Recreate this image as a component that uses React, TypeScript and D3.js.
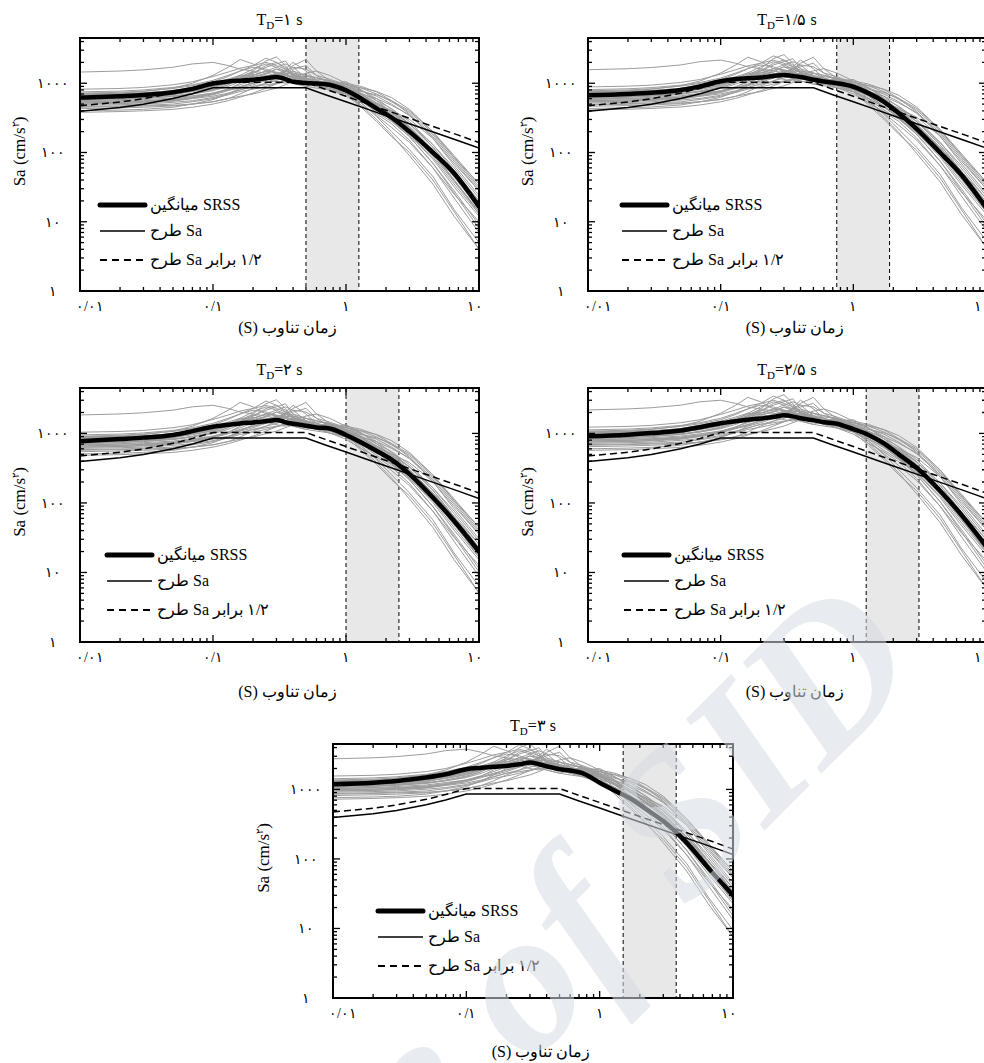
import React from 'react';
import * as d3 from 'd3';

const W = 984;
const H = 1063;
const FONT = 'Liberation Serif, Times New Roman, DejaVu Serif, serif';

// periods (s) where the records and the SRSS means were read
const periods = [0.01, 0.02, 0.03, 0.05, 0.07, 0.1, 0.13, 0.16, 0.2, 0.25, 0.3, 0.35, 0.4, 0.5, 0.6, 0.75, 1, 1.3, 1.7, 2.2, 3, 4.5, 6.5, 10];

// individual records, read at the T_D=1 s panel scale
const records = [
  [1450, 1500, 1560, 1700, 1900, 2000, 1800, 1600, 1500, 1400, 1300, 1200, 1100, 1050, 900, 800, 650, 480, 360, 260, 150, 60, 25, 10],
  [700, 720, 760, 850, 1000, 1300, 1700, 2200, 1900, 1500, 1400, 1300, 1200, 1000, 900, 850, 700, 560, 420, 330, 220, 110, 50, 20],
  [560, 580, 600, 650, 720, 820, 950, 1200, 1500, 2100, 2400, 1800, 1300, 1000, 950, 900, 800, 650, 500, 380, 260, 130, 60, 22],
  [480, 490, 500, 530, 560, 620, 700, 800, 900, 1000, 1200, 1600, 2000, 1500, 1100, 900, 750, 620, 500, 400, 300, 160, 70, 28],
  [620, 640, 660, 700, 760, 850, 1000, 1100, 1300, 1500, 1700, 1900, 1700, 1200, 1000, 950, 850, 700, 520, 380, 240, 110, 45, 15],
  [450, 460, 470, 480, 500, 540, 600, 650, 700, 780, 850, 950, 1050, 1150, 1050, 950, 800, 700, 600, 480, 350, 180, 80, 30],
  [680, 700, 720, 780, 880, 1000, 1150, 1300, 1250, 1350, 1600, 1500, 1350, 1100, 1000, 1050, 900, 620, 420, 300, 180, 80, 32, 12],
  [520, 530, 550, 580, 620, 700, 800, 900, 1000, 1150, 1300, 1450, 1600, 1800, 1300, 1000, 850, 680, 480, 350, 220, 100, 40, 14],
  [600, 610, 620, 660, 700, 780, 900, 1050, 1250, 1150, 1050, 1000, 1100, 1300, 1200, 1100, 780, 520, 330, 200, 110, 45, 15, 5],
  [430, 440, 450, 470, 500, 540, 600, 700, 850, 1000, 1100, 1200, 1300, 1200, 1050, 1000, 900, 780, 650, 500, 340, 170, 75, 28],
  [750, 770, 800, 870, 950, 1100, 1300, 1500, 1700, 1600, 1400, 1200, 1000, 900, 1000, 1100, 850, 550, 380, 280, 170, 70, 28, 9],
  [580, 590, 610, 640, 700, 800, 950, 1150, 1400, 1700, 1900, 2100, 1500, 1100, 950, 800, 700, 560, 420, 290, 180, 85, 35, 13],
  [500, 510, 520, 550, 600, 650, 720, 800, 900, 950, 1000, 1050, 1100, 1000, 950, 1000, 950, 850, 700, 540, 380, 190, 85, 35],
  [650, 670, 700, 760, 850, 950, 1050, 1200, 1400, 1800, 2000, 1700, 1400, 1200, 1100, 1000, 750, 480, 300, 180, 90, 35, 12, 4],
  [550, 560, 580, 610, 660, 720, 800, 850, 950, 1100, 1300, 1500, 1800, 2200, 1500, 1100, 900, 720, 560, 430, 280, 130, 55, 20],
  [640, 650, 670, 720, 800, 900, 1050, 1300, 1600, 1900, 1700, 1500, 1300, 1150, 1050, 1000, 880, 680, 520, 400, 260, 120, 50, 18],
  [590, 600, 620, 680, 780, 900, 1000, 1100, 1050, 1200, 1400, 1300, 1250, 1100, 1150, 1100, 950, 800, 600, 420, 260, 120, 50, 17],
  [400, 410, 420, 450, 500, 580, 700, 850, 1050, 1250, 1400, 1300, 1150, 1000, 900, 850, 750, 620, 480, 360, 230, 110, 48, 18],
  [700, 710, 730, 780, 850, 950, 1100, 1250, 1450, 1300, 1200, 1350, 1500, 1300, 1100, 950, 800, 600, 430, 310, 190, 90, 38, 14],
  [520, 530, 540, 570, 620, 700, 820, 1000, 1200, 1400, 1600, 1400, 1200, 1050, 1000, 1050, 1000, 900, 750, 560, 360, 160, 65, 24],
  [460, 470, 480, 500, 540, 600, 680, 760, 820, 900, 980, 1050, 1000, 900, 850, 800, 700, 520, 340, 230, 140, 60, 22, 7],
  [820, 840, 870, 950, 1050, 1250, 1450, 1650, 1800, 2300, 2000, 1600, 1300, 1100, 1000, 950, 820, 640, 470, 340, 210, 95, 40, 14],
  [540, 550, 560, 590, 640, 720, 830, 950, 1100, 1250, 1350, 1500, 1700, 1600, 1300, 1150, 950, 860, 760, 620, 420, 200, 85, 32],
  [380, 390, 400, 420, 450, 500, 560, 630, 720, 850, 980, 1100, 1200, 1100, 1000, 900, 700, 450, 280, 170, 100, 40, 14, 4],
  [670, 690, 710, 760, 830, 920, 1050, 1200, 1350, 1250, 1150, 1100, 1200, 1400, 1500, 1300, 1000, 700, 480, 350, 230, 105, 44, 16],
  [610, 620, 640, 690, 760, 870, 1000, 1150, 1300, 1500, 1450, 1350, 1250, 1150, 1000, 900, 820, 760, 680, 560, 400, 200, 90, 35],
  [500, 510, 530, 560, 610, 680, 780, 880, 1000, 1100, 1250, 1400, 1350, 1150, 950, 1000, 1050, 800, 560, 380, 230, 100, 40, 13],
  [720, 740, 770, 840, 920, 1050, 1250, 1500, 1800, 2000, 1800, 1600, 1400, 1300, 1200, 1050, 850, 620, 430, 290, 170, 70, 26, 8],
];

// scale factor of the records in each panel
const recordScale = [1, 1.08, 1.27, 1.5, 1.9];

// SRSS mean, one per panel
const meanTd1 = [620, 650, 675, 740, 830, 990, 1060, 1090, 1120, 1180, 1230, 1150, 1050, 1010, 990, 950, 790, 600, 430, 320, 200, 100, 50, 16.5];
const meanTd15 = [670, 700, 730, 800, 900, 1070, 1150, 1180, 1210, 1270, 1320, 1270, 1230, 1120, 1060, 1000, 890, 720, 540, 370, 220, 100, 48, 16];
const meanTd2 = [770, 830, 870, 950, 1080, 1250, 1330, 1390, 1440, 1500, 1560, 1450, 1380, 1290, 1220, 1180, 950, 740, 560, 420, 260, 120, 55, 20];
const meanTd25 = [910, 960, 1010, 1100, 1230, 1400, 1500, 1570, 1640, 1720, 1820, 1760, 1650, 1550, 1450, 1380, 1150, 950, 720, 500, 320, 150, 68, 24];
const meanTd3 = [1190, 1250, 1320, 1480, 1650, 1950, 2050, 2120, 2180, 2300, 2440, 2300, 2150, 1950, 1870, 1700, 1250, 960, 740, 530, 350, 170, 75, 30];
const means = [meanTd1, meanTd15, meanTd2, meanTd25, meanTd3];

// design spectrum (same in every panel)
const designPeriods = [0.01, 0.02, 0.03, 0.05, 0.07, 0.1, 0.5, 0.7, 1, 1.5, 2, 3, 5, 7, 10];
const designSa = [395, 446, 498, 600, 704, 858, 858, 683, 540, 412, 340, 260, 185, 148, 116];
const designSa12 = [474, 535, 598, 720, 845, 1030, 1030, 820, 648, 494, 408, 312, 222, 178, 139];

// panel titles and shaded period range
const tdLabels = ['۱', '۱/۵', '۲', '۲/۵', '۳'];
const shadeFrom = [0.5, 0.75, 1, 1.25, 1.5];
const shadeTo = [1.25, 1.875, 2.5, 3.125, 3.75];

const xTickValues = [0.01, 0.1, 1, 10];
const xTickLabels = ['۰/۰۱', '۰/۱', '۱', '۱۰'];
const yTickValues = [1, 10, 100, 1000];
const yTickLabels = ['۱', '۱۰', '۱۰۰', '۱۰۰۰'];

const legendLabels = ['میانگین SRSS', 'طرح Sa', 'طرح\u200E Sa \u200Eبرابر\u200E ۱/۲'];

const layouts = [
  { left: 80, top: 38, width: 399, height: 253, legendDx: 20, xTitleY: 333, yTitleDx: 60 },
  { left: 588, top: 38, width: 398, height: 253, legendDx: 34, xTitleY: 333, yTitleDx: 60 },
  { left: 80, top: 388, width: 399, height: 254, legendDx: 27, xTitleY: 697, yTitleDx: 60 },
  { left: 588, top: 388, width: 398, height: 254, legendDx: 36, xTitleY: 697, yTitleDx: 60 },
  { left: 333, top: 744, width: 400, height: 254, legendDx: 45, xTitleY: 1057, yTitleDx: 69 },
];

const isMajor = (v: number) => Math.abs(Math.log10(v) - Math.round(Math.log10(v))) < 1e-6;

function Panel({ i }: { i: number }) {
  const L = layouts[i];
  const right = L.left + L.width;
  const bottom = L.top + L.height;
  const x = d3.scaleLog().domain([0.01, 10]).range([L.left, right]);
  const y = d3.scaleLog().domain([1, 4500]).range([bottom, L.top]);

  const line = d3.line<[number, number]>().x(d => x(d[0])).y(d => y(d[1]));
  const smooth = d3.line<[number, number]>().x(d => x(d[0])).y(d => y(d[1])).curve(d3.curveMonotoneX);

  const recPaths = records.map(r => line(r.map((v, k) => [periods[k], v * recordScale[i]] as [number, number])));
  const meanPath = smooth(means[i].map((v, k) => [periods[k], v] as [number, number]));
  const designPath = line(designSa.map((v, k) => [designPeriods[k], v] as [number, number]));
  const design12Path = line(designSa12.map((v, k) => [designPeriods[k], v] as [number, number]));

  const xt = x.ticks();
  const yt = y.ticks();
  const clipId = `clip-${i}`;
  const x0 = x(shadeFrom[i]);
  const x1 = x(shadeTo[i]);
  const lx = L.left + L.legendDx;
  const legendY = [L.top + 167, L.top + 193, L.top + 222];

  return (
    <g>
      <defs>
        <clipPath id={clipId}>
          <rect x={L.left} y={L.top} width={L.width} height={L.height} />
        </clipPath>
      </defs>
      <text x={L.left + L.width / 2} y={L.top - 13} textAnchor="middle" fontSize={16} fontFamily={FONT}>
        T<tspan fontSize={11} dy={4}>D</tspan>
        <tspan dy={-4}>={tdLabels[i]} s</tspan>
      </text>
      <rect x={x0} y={L.top} width={x1 - x0} height={L.height} fill="#e8e8e8" />
      <line x1={x0} x2={x0} y1={L.top} y2={bottom} stroke="#000" strokeWidth={1} strokeDasharray="4,3" />
      <line x1={x1} x2={x1} y1={L.top} y2={bottom} stroke="#000" strokeWidth={1} strokeDasharray="4,3" />
      <g clipPath={`url(#${clipId})`}>
        {recPaths.map((d, k) => (
          <path key={k} d={d || ''} fill="none" stroke="#9c9c9c" strokeWidth={1} />
        ))}
        <path d={designPath || ''} fill="none" stroke="#000" strokeWidth={1.5} />
        <path d={design12Path || ''} fill="none" stroke="#000" strokeWidth={1.5} strokeDasharray="7,4" />
        <path d={meanPath || ''} fill="none" stroke="#000" strokeWidth={4.5} strokeLinejoin="round" strokeLinecap="round" />
      </g>
      {/* ticks inside the frame on all four sides */}
      {xt.map((v, k) => {
        const len = isMajor(v) ? 7 : 4;
        const px = x(v);
        return (
          <g key={`x${k}`} stroke="#000" strokeWidth={1.3}>
            <line x1={px} x2={px} y1={bottom} y2={bottom - len} />
            <line x1={px} x2={px} y1={L.top} y2={L.top + len} />
          </g>
        );
      })}
      {yt.map((v, k) => {
        const len = isMajor(v) ? 7 : 4;
        const py = y(v);
        return (
          <g key={`y${k}`} stroke="#000" strokeWidth={1.3}>
            <line x1={L.left} x2={L.left + len} y1={py} y2={py} />
            <line x1={right} x2={right - len} y1={py} y2={py} />
          </g>
        );
      })}
      <rect x={L.left} y={L.top} width={L.width} height={L.height} fill="none" stroke="#000" strokeWidth={2} />
      {xTickValues.map((v, k) => (
        <text key={`xl${k}`} x={x(v) + (k === 0 ? 10 : k === 3 ? -4 : 0)} y={bottom + 20} textAnchor="middle" fontSize={14} fontFamily={FONT}>
          {xTickLabels[k]}
        </text>
      ))}
      {yTickValues.map((v, k) => (
        <text key={`yl${k}`} x={L.left - 27} y={y(v) + 5} textAnchor="middle" fontSize={14} fontFamily={FONT}>
          {yTickLabels[k]}
        </text>
      ))}
      <text x={L.left + L.width / 2 + 8} y={L.xTitleY} textAnchor="middle" fontSize={16} direction="rtl" fontFamily={FONT}>
        زمان تناوب (S)
      </text>
      <text
        transform={`translate(${L.left - L.yTitleDx},${L.top + L.height / 2 - 13}) rotate(-90)`}
        textAnchor="middle"
        fontSize={17}
        dy={5}
        fontFamily={FONT}
      >
        Sa (cm/s<tspan fontSize={10} dy={-6}>۲</tspan>
        <tspan dy={6}>)</tspan>
      </text>
      {/* legend */}
      <line x1={lx} x2={lx + 45} y1={legendY[0]} y2={legendY[0]} stroke="#000" strokeWidth={5} strokeLinecap="round" />
      <line x1={lx} x2={lx + 45} y1={legendY[1]} y2={legendY[1]} stroke="#000" strokeWidth={1.5} />
      <line x1={lx} x2={lx + 45} y1={legendY[2]} y2={legendY[2]} stroke="#000" strokeWidth={1.8} strokeDasharray="7,5" />
      {legendLabels.map((t, k) => (
        <text key={`lg${k}`} x={lx + 50} y={legendY[k] + 5} fontSize={16} fontFamily={FONT}>
          {t}
        </text>
      ))}
    </g>
  );
}

function Watermark() {
  return (
    <text
      transform="translate(25,1570) rotate(-45)"
      fontSize={205}
      fontStyle="italic"
      fontWeight="bold"
      fontFamily={FONT}
      fill="#d6dbe2"
      opacity={0.55}
    >
      Archive of SID
    </text>
  );
}

export default function App() {
  return (
    <svg width={W} height={H} fontFamily={FONT} style={{ position: 'absolute', left: 0, top: 0, background: '#fff' }}>
      <rect width={W} height={H} fill="#fff" />
      {layouts.map((_, i) => (
        <Panel key={i} i={i} />
      ))}
      <Watermark />
    </svg>
  );
}
